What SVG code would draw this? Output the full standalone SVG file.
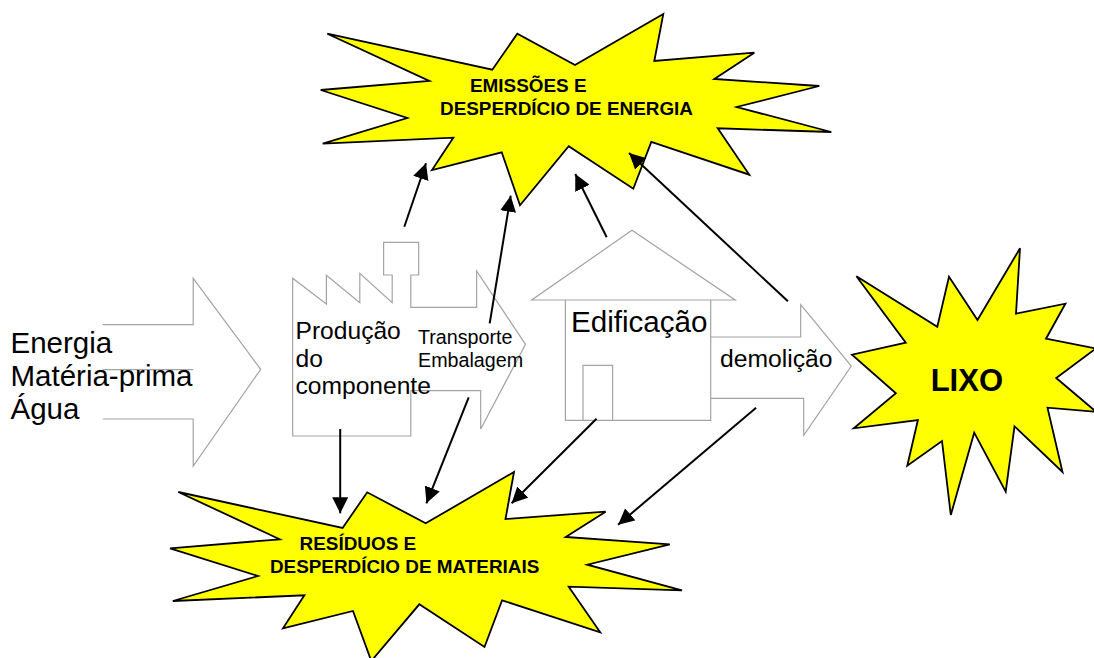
<svg xmlns="http://www.w3.org/2000/svg" width="1094" height="658" viewBox="0 0 1094 658">
<style>
text{font-family:"Liberation Sans",Arial,sans-serif;fill:#000}
.o{fill:none;stroke:#a3a3a3;stroke-width:1.2}
.s{fill:#ff0;stroke:#000;stroke-width:1.8;stroke-linejoin:miter}
.b{font-weight:bold;font-size:18.9px}
.c{fill:none;stroke:#000;stroke-width:2;marker-end:url(#h)}
</style>
<defs>
<marker id="h" markerUnits="userSpaceOnUse" markerWidth="18" markerHeight="16" refX="16" refY="8" orient="auto"><path d="M0 0L16 8L0 16Z" fill="#000"/></marker>
</defs>
<rect width="1094" height="658" fill="#fff"/>
<g id="insumos">
<path class="o" d="M102.6 324.7H193.2V278.3L260.7 369.3L193.2 466V419H102.6M102.6 369.7H193.2"/>
<text x="10.5" y="352.7" font-size="29.5">Energia</text>
<text x="10.5" y="386" font-size="29.5">Matéria-prima</text>
<text x="10.5" y="419" font-size="29.5">Água</text>
</g>
<g id="producao">
<path class="o" d="M292.7 278.3L326.4 304V275.3L359.8 302.7V273.3L392.2 302.7V275H383.6V242.3H418.7V275H410.8V307.3H476.6V271L525.5 344.3L480.7 429V390.7H410.8V436H292.7Z"/>
<text x="295.5" y="339.3" font-size="24.6">Produção</text>
<text x="295.5" y="367" font-size="24.6">do</text>
<text x="295.5" y="394.3" font-size="24.6">componente</text>
<text x="418" y="344.3" font-size="19.7">Transporte</text>
<text x="418" y="367.3" font-size="19.7">Embalagem</text>
</g>
<g id="edificacao">
<path class="o" d="M710.7 337H800.7V304.7L851.3 366L803.7 435.3V398.3H710.7"/>
<path class="o" d="M565.4 300H531.7L632 230.3L735.2 300H710.7M565.4 300H710.7V420.3H565.4ZM583 420.3V365.3H612.6V420.3"/>
<text x="571" y="332.3" font-size="29.6">Edificação</text>
<text x="720" y="367.3" font-size="24.7">demolição</text>
</g>
<g id="emissoes">
<polygon class="s" points="327.3,33.7 492.3,69.7 517.3,33.7 575,65 663.3,14 654.3,61 754.3,52.7 714.3,79 819.3,86 736.7,107 831.3,132 717.7,128.3 749.3,174.7 651.3,142 633.3,188.7 568.7,146.3 520,205.3 501.7,152.3 432,170 453.3,137.7 322.7,143.7 407.3,118 320.7,90 429.3,81"/>
<text class="b" x="470" y="92">EMISSÕES E</text>
<text class="b" x="440" y="115.3">DESPERDÍCIO DE ENERGIA</text>
</g>
<g id="residuos">
<polygon class="s" points="178.3,492 342.6,528 367.2,492.3 425.7,523.3 514,472 505.5,519 605.6,511.7 565.7,537 669.8,544.3 587.3,564.7 682,590.3 568.7,586.7 600.2,632.3 502.1,600.3 484.5,647 419.3,604.3 371.3,661 353,611 283,628.3 304.4,595.3 172.8,601 258,576 170.1,548.3 279.7,539.3"/>
<text class="b" x="299.6" y="549.7">RESÍDUOS E</text>
<text class="b" x="269.9" y="573">DESPERDÍCIO DE MATERIAIS</text>
</g>
<g id="lixo">
<polygon class="s" points="856.4,276.3 937.3,326.7 949,276.7 977.5,320 1020,248.3 1016,313.7 1065.4,303.7 1046,338.7 1096,348.5 1056.2,378 1096,411.7 1047.5,407.7 1062.5,472 1014.5,426.3 1005.7,491.7 974.2,432.7 950.8,515 942,441 907.3,465.7 917.9,420 853.8,428.3 895.9,393.3 852,354.7 905.8,342.7"/>
<text x="930.7" y="391" font-size="31" font-weight="bold">LIXO</text>
</g>
<g id="conectores">
<line class="c" x1="404.3" y1="226.7" x2="426" y2="163.3"/>
<line class="c" x1="489.7" y1="323.3" x2="510.7" y2="195.7"/>
<line class="c" x1="606.7" y1="237.3" x2="575.3" y2="174"/>
<line class="c" x1="787.9" y1="301.3" x2="629" y2="153"/>
<line class="c" x1="340.2" y1="429" x2="340.2" y2="513.3"/>
<line class="c" x1="468.7" y1="397.3" x2="426.4" y2="503.3"/>
<line class="c" x1="596.5" y1="418.7" x2="511.6" y2="503.3"/>
<line class="c" x1="756.1" y1="407.7" x2="618.1" y2="524.7"/>
</g>
</svg>
